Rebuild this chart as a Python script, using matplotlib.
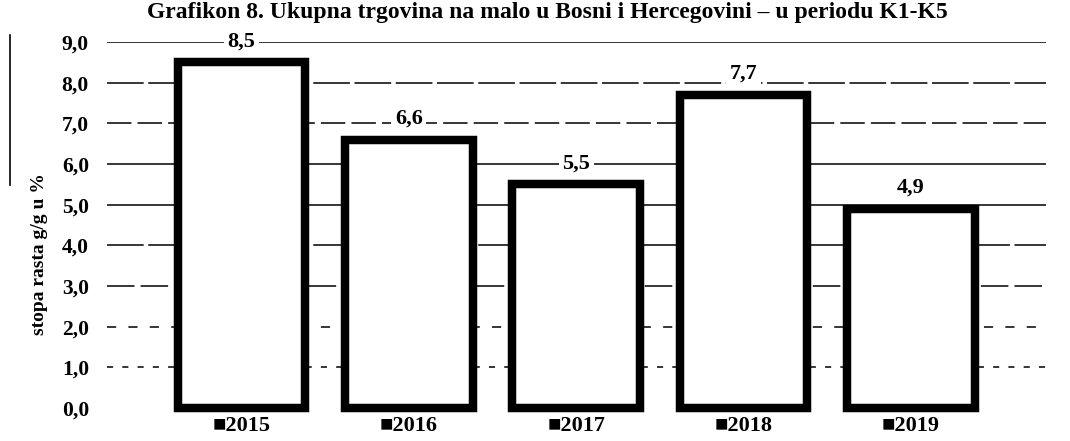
import matplotlib
matplotlib.use("Agg")
import matplotlib.pyplot as plt
from matplotlib.lines import Line2D

# ---- data ----
years = ["2015", "2016", "2017", "2018", "2019"]
values = [8.5, 6.6, 5.5, 7.7, 4.9]
value_labels = ["8,5", "6,6", "5,5", "7,7", "4,9"]
y_ticks = [0, 1, 2, 3, 4, 5, 6, 7, 8, 9]
y_tick_labels = ["0,0", "1,0", "2,0", "3,0", "4,0", "5,0", "6,0", "7,0", "8,0", "9,0"]
title = "Grafikon 8. Ukupna trgovina na malo u Bosni i Hercegovini – u periodu K1-K5"
y_label = "stopa rasta g/g u %"

W, H = 1070, 441
fig = plt.figure(figsize=(W / 100, H / 100), dpi=100)
fig.patch.set_facecolor("white")

ax = fig.add_axes([107 / W, 1 - 408 / H, (1046 - 107) / W, (408 - 42) / H])
ax.set_facecolor("white")

serif = ["Liberation Serif", "DejaVu Serif"]

# gridlines (scan-like broken styles)
grid_styles = {1: (0, (4, 6)), 2: (0, (6, 8)), 3: (0, (18, 4)), 4: (0, (24, 3)),
               5: "-", 6: "-", 7: (0, (16, 4)), 8: (0, (24, 3)), 9: "-"}
for t in y_ticks[1:]:
    ax.axhline(t, color="black", lw=1.1, ls=grid_styles[t], zorder=1)

x = list(range(len(years)))
bars = ax.bar(x, values, width=0.762, color="white", edgecolor="black",
              linewidth=6.1, zorder=3, clip_on=False)
for b in bars:
    b.set_joinstyle("miter")

for xi, v, lab in zip(x, values, value_labels):
    ax.annotate(lab, (xi, v), xytext=(0, 15), textcoords="offset points",
                ha="center", va="center", fontsize=16, fontweight="bold",
                family=serif, zorder=4,
                bbox=dict(facecolor="white", edgecolor="none", pad=2.5))

ax.set_xlim(-0.803, 4.806)
ax.set_ylim(0, 9)
ax.set_yticks(y_ticks)
ax.set_yticklabels(y_tick_labels, fontsize=15.5, fontweight="bold", family=serif)
ax.set_xticks(x)
ax.set_xticklabels(["\u25a0" + y for y in years], fontsize=16, fontweight="bold",
                   family=["Liberation Serif", "DejaVu Sans"])
ax.tick_params(axis="y", length=0, pad=13)
ax.tick_params(axis="x", length=0, pad=6)
for s in ax.spines.values():
    s.set_visible(False)

ax.set_ylabel(y_label, fontsize=14, fontweight="bold", family=serif, va="center")
ax.yaxis.set_label_coords((40 - 107) / (1046 - 107), 1 - (254 - 42) / (408 - 42))

fig.text(547 / W, 1 - 18 / H, title, ha="center", va="baseline",
         fontsize=17, fontweight="bold", family=serif)

# left page border artifact
fig.add_artist(Line2D([10 / W, 10 / W], [1 - 35 / H, 1 - 185 / H],
                      color="black", lw=1.2, transform=fig.transFigure))

fig.savefig("out.png", dpi=100, facecolor="white")
